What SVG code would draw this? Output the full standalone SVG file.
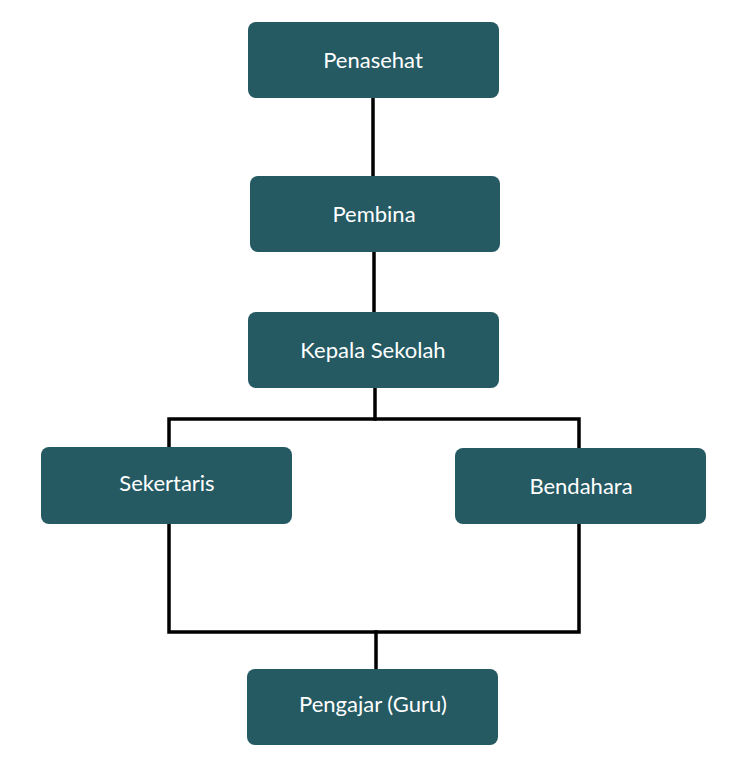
<svg xmlns="http://www.w3.org/2000/svg" width="746" height="768" viewBox="0 0 746 768">
<style>
.box{fill:#255A63;}
.lbl{fill:#ffffff;font-family:Lato,"Liberation Sans",sans-serif;font-size:22px;text-anchor:middle;dominant-baseline:central;}
.ln{stroke:#000;stroke-width:3.5;fill:none;stroke-linecap:square;}
</style>
<rect width="746" height="768" fill="#ffffff"/>
<g id="connectors">
<line class="ln" x1="373" y1="98" x2="373" y2="176"/>
<line class="ln" x1="374" y1="252" x2="374" y2="312"/>
<line class="ln" x1="375" y1="388" x2="375" y2="419"/>
<polyline class="ln" points="169,447 169,419 579,419 579,448"/>
<polyline class="ln" points="169,524 169,632 579,632 579,524"/>
<line class="ln" x1="376" y1="632" x2="376" y2="669"/>
</g>
<g id="penasehat"><rect class="box" x="248" y="22" width="251" height="76" rx="8"/><text class="lbl" x="373" y="59">Penasehat</text></g>
<g id="pembina"><rect class="box" x="250" y="176" width="250" height="76" rx="8"/><text class="lbl" x="374" y="213">Pembina</text></g>
<g id="kepala"><rect class="box" x="248" y="312" width="251" height="76" rx="8"/><text class="lbl" x="373" y="349">Kepala Sekolah</text></g>
<g id="sekertaris"><rect class="box" x="41" y="447" width="251" height="77" rx="8"/><text class="lbl" x="167" y="482">Sekertaris</text></g>
<g id="bendahara"><rect class="box" x="455" y="448" width="251" height="76" rx="8"/><text class="lbl" x="581" y="485">Bendahara</text></g>
<g id="pengajar"><rect class="box" x="247" y="669" width="251" height="76" rx="8"/><text class="lbl" x="373" y="703">Pengajar (Guru)</text></g>
</svg>
